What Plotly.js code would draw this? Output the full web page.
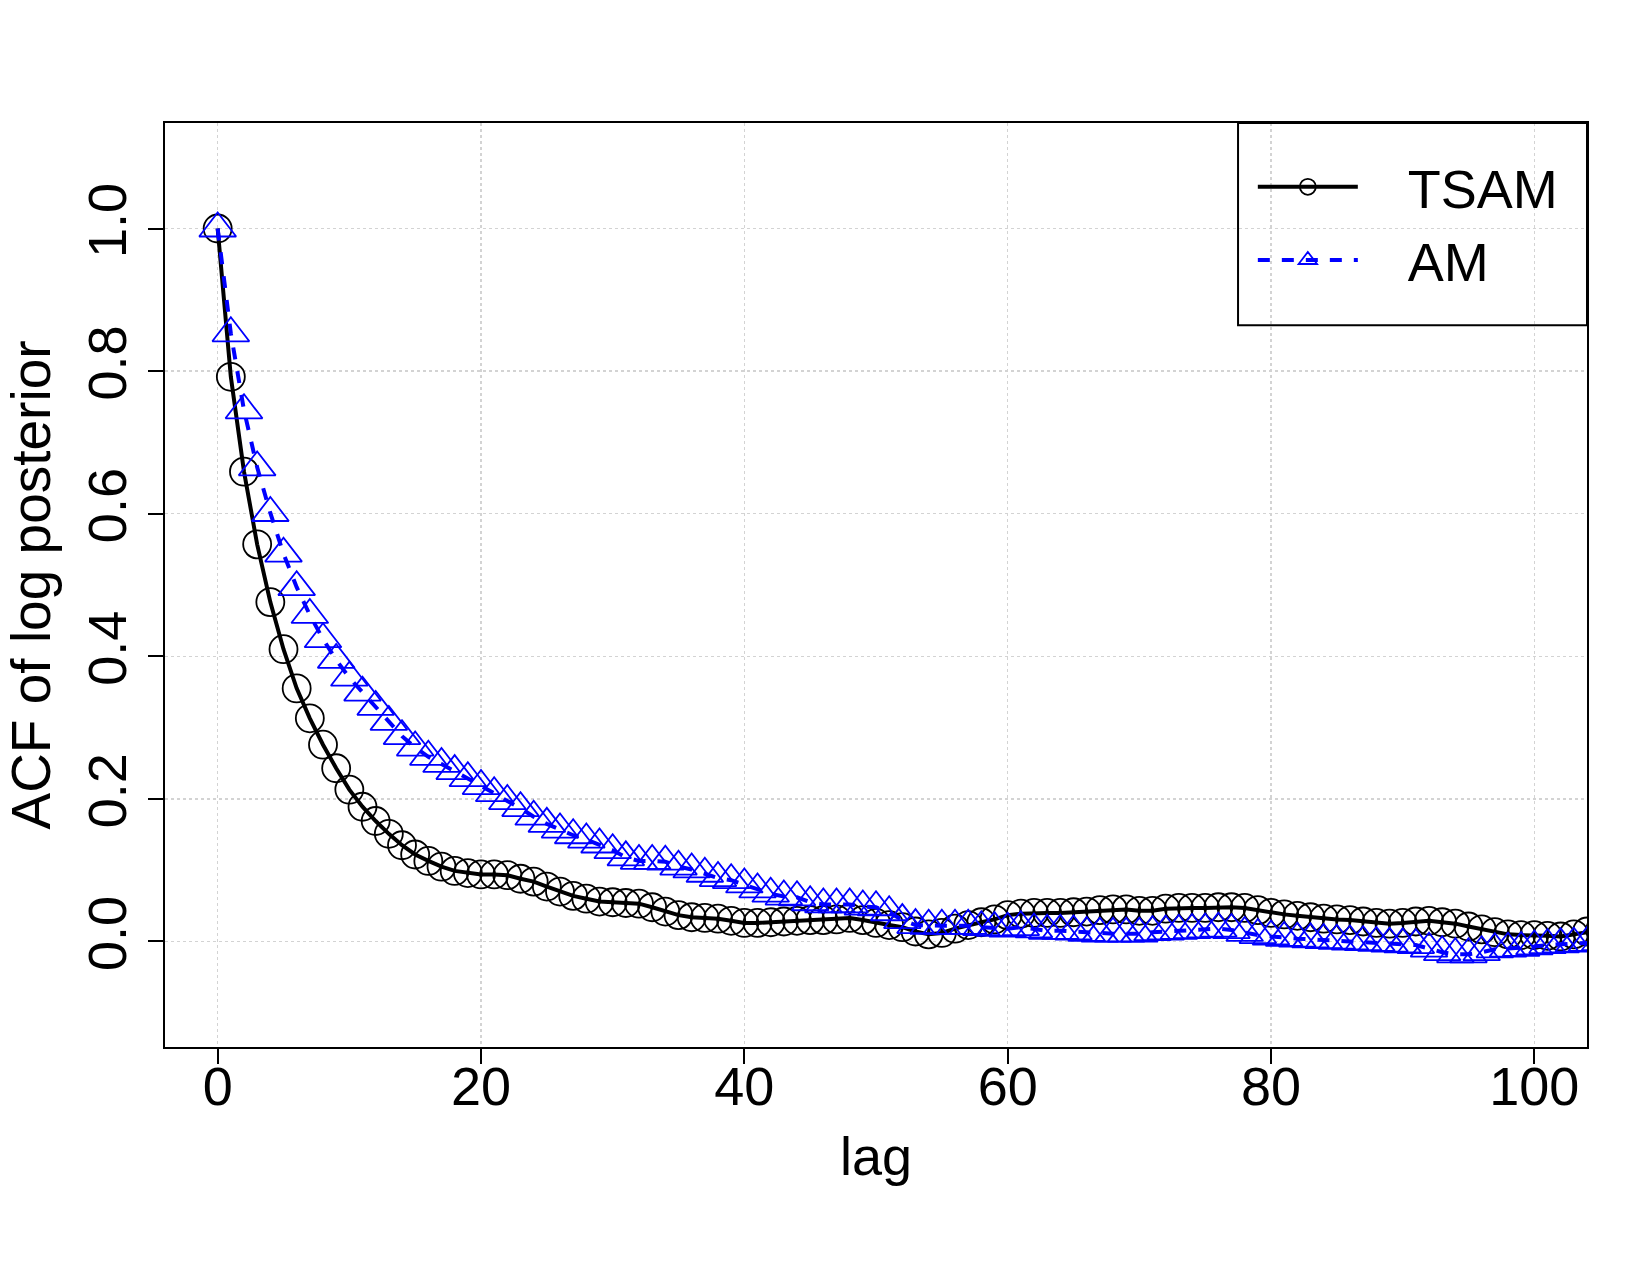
<!DOCTYPE html>
<html>
<head>
<meta charset="utf-8">
<script src="https://cdn.plot.ly/plotly-3.0.1.min.js"></script>
<style>
  html, body { margin: 0; padding: 0; background: #fff; }
  #acf { width: 1650px; height: 1275px; }
</style>
</head>
<body>
<div id="acf"></div>
<script>
var lags = [];
for (var i = 0; i <= 105; i++) lags.push(i);

var tsam = [
    1.000, 0.792, 0.659, 0.557, 0.476, 0.410, 0.355, 0.313, 0.276, 0.243,
    0.213, 0.189, 0.169, 0.151, 0.135, 0.122, 0.113, 0.105, 0.099, 0.096,
    0.094, 0.094, 0.093, 0.088, 0.084, 0.077, 0.070, 0.064, 0.060, 0.056,
    0.055, 0.054, 0.053, 0.048, 0.042, 0.037, 0.034, 0.033, 0.032, 0.029,
    0.026, 0.026, 0.027, 0.028, 0.029, 0.030, 0.030, 0.031, 0.033, 0.030,
    0.026, 0.023, 0.020, 0.014, 0.010, 0.012, 0.018, 0.023, 0.027, 0.031,
    0.037, 0.039, 0.040, 0.040, 0.040, 0.041, 0.042, 0.044, 0.045, 0.045,
    0.043, 0.043, 0.046, 0.047, 0.047, 0.047, 0.048, 0.048, 0.047, 0.044,
    0.040, 0.038, 0.036, 0.034, 0.032, 0.031, 0.030, 0.028, 0.026, 0.025,
    0.026, 0.028, 0.029, 0.027, 0.025, 0.021, 0.017, 0.013, 0.010, 0.009,
    0.009, 0.008, 0.007, 0.010, 0.014, 0.016
];

var am = [
    1.000, 0.853, 0.745, 0.665, 0.601, 0.544, 0.497, 0.458, 0.424, 0.395,
    0.370, 0.349, 0.329, 0.308, 0.288, 0.272, 0.259, 0.249, 0.239, 0.229,
    0.218, 0.208, 0.197, 0.187, 0.175, 0.165, 0.157, 0.149, 0.143, 0.136,
    0.128, 0.118, 0.113, 0.113, 0.112, 0.105, 0.101, 0.095, 0.089, 0.086,
    0.080, 0.073, 0.067, 0.063, 0.062, 0.055, 0.052, 0.052, 0.052, 0.049,
    0.048, 0.041, 0.030, 0.023, 0.022, 0.022, 0.022, 0.022, 0.020, 0.019,
    0.018, 0.020, 0.017, 0.015, 0.015, 0.014, 0.012, 0.011, 0.011, 0.011,
    0.011, 0.013, 0.014, 0.015, 0.016, 0.017, 0.018, 0.016, 0.012, 0.009,
    0.007, 0.005, 0.004, 0.003, 0.002, 0.001, 0.000, -0.001, -0.002, -0.003,
    -0.004, -0.005, -0.010, -0.015, -0.018, -0.018, -0.015, -0.011, -0.010, -0.009,
    -0.007, -0.005, -0.004, -0.003, -0.002, -0.001
];

var xTicks = [0, 20, 40, 60, 80, 100];
var yTicks = [0.0, 0.2, 0.4, 0.6, 0.8, 1.0];

var fontFam = 'Liberation Sans, Arial, Helvetica, sans-serif';
var pad = '\u00a0\u00a0\u00a0';

var data = [
    {
        type: 'scatter',
        mode: 'lines+markers',
        name: pad + 'TSAM',
        x: lags,
        y: tsam,
        line: {color: 'black', width: 4},
        marker: {symbol: 'circle-open', size: 28, color: 'black', line: {width: 1.8}},
    },
    {
        type: 'scatter',
        mode: 'lines+markers',
        name: pad + 'AM',
        x: lags,
        y: am,
        line: {color: 'blue', width: 4, dash: '12px,12px'},
        marker: {symbol: 'triangle-up-open', size: 32, color: 'blue', line: {width: 1.8}},
    }
];

var axisBase = {
    showline: true,
    linecolor: 'black',
    linewidth: 2,
    mirror: true,
    ticks: 'outside',
    ticklen: 15,
    tickwidth: 2,
    tickcolor: 'black',
    showgrid: true,
    gridcolor: '#d3d3d3',
    gridwidth: 1.5,
    griddash: 'dot',
    zeroline: false,
    tickfont: {family: fontFam, size: 54, color: 'black'},
};

var layout = {
    width: 1650,
    height: 1275,
    font: {family: fontFam, size: 54, color: 'black'},
    paper_bgcolor: 'white',
    plot_bgcolor: 'white',
    showlegend: true,
    margin: {l: 165, r: 63, t: 123, b: 228, autoexpand: false},
    xaxis: Object.assign({}, axisBase, {
        range: [-4, 104],
        tickvals: xTicks,
        ticklabelstandoff: -24,
        title: {text: 'lag', font: {family: fontFam, size: 54}, standoff: 22},
    }),
    yaxis: Object.assign({}, axisBase, {
        range: [-0.148, 1.148],
        tickvals: yTicks,
        tickformat: '.1f',
        tickangle: -90,
        title: {text: 'ACF of log posterior', font: {family: fontFam, size: 55}, standoff: 15},
    }),
    legend: {
        x: 0.765,
        xanchor: 'left',
        y: 0.976,
        yanchor: 'top',
        bgcolor: 'rgba(0,0,0,0)',
        borderwidth: 0,
        itemwidth: 100,
        font: {family: fontFam, size: 54, color: 'black'},
    },
    shapes: [
        {
            type: 'rect', xref: 'paper', yref: 'paper',
            x0: 0.7546, x1: 1, y0: 0.7812, y1: 1,
            line: {color: 'black', width: 2},
        }
    ],
};

Plotly.newPlot('acf', data, layout, {displayModeBar: false, staticPlot: true});
</script>
</body>
</html>
